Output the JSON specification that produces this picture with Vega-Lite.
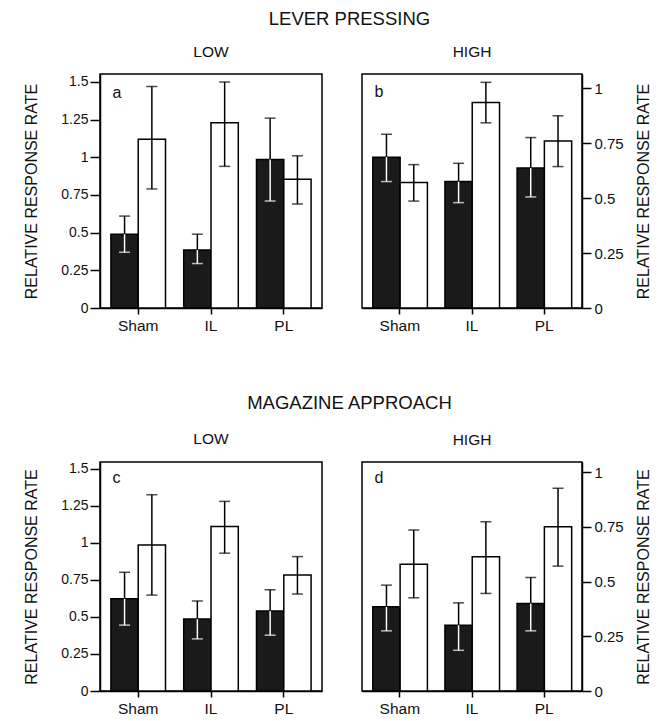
{
  "$schema": "https://vega.github.io/schema/vega-lite/v6.json",
  "padding": {"left": 23, "top": 10, "right": 5, "bottom": 5},
  "spacing": 59,
  "config": {
    "font": "Liberation Sans",
    "view": {"stroke": "black", "strokeWidth": 1.5},
    "axis": {"grid": false, "domainColor": "black", "tickColor": "black", "labelColor": "#111", "titleColor": "#111", "domainWidth": 1.5, "tickWidth": 1.5, "labelFont": "Liberation Sans", "titleFont": "Liberation Sans", "titleFontWeight": "normal", "labelOverlap": false, "labelBound": false, "labelFlush": false, "tickCount": 12},
    "title": {"font": "Liberation Sans", "fontWeight": "normal", "color": "#111"},
    "concat": {"spacing": 38}
  },
  "datasets": {
    "d": [
      {"panel": "a", "group": "Sham", "series": "black", "value": 0.49, "lo": 0.37, "hi": 0.61},
      {"panel": "a", "group": "Sham", "series": "white", "value": 1.12, "lo": 0.79, "hi": 1.47},
      {"panel": "a", "group": "IL", "series": "black", "value": 0.385, "lo": 0.295, "hi": 0.49},
      {"panel": "a", "group": "IL", "series": "white", "value": 1.23, "lo": 0.94, "hi": 1.5},
      {"panel": "a", "group": "PL", "series": "black", "value": 0.985, "lo": 0.71, "hi": 1.26},
      {"panel": "a", "group": "PL", "series": "white", "value": 0.855, "lo": 0.69, "hi": 1.01},
      {"panel": "b", "group": "Sham", "series": "black", "value": 0.686, "lo": 0.575, "hi": 0.79},
      {"panel": "b", "group": "Sham", "series": "white", "value": 0.571, "lo": 0.486, "hi": 0.652},
      {"panel": "b", "group": "IL", "series": "black", "value": 0.575, "lo": 0.479, "hi": 0.658},
      {"panel": "b", "group": "IL", "series": "white", "value": 0.934, "lo": 0.842, "hi": 1.026},
      {"panel": "b", "group": "PL", "series": "black", "value": 0.637, "lo": 0.505, "hi": 0.775},
      {"panel": "b", "group": "PL", "series": "white", "value": 0.759, "lo": 0.643, "hi": 0.874},
      {"panel": "c", "group": "Sham", "series": "black", "value": 0.623, "lo": 0.445, "hi": 0.802},
      {"panel": "c", "group": "Sham", "series": "white", "value": 0.987, "lo": 0.648, "hi": 1.326},
      {"panel": "c", "group": "IL", "series": "black", "value": 0.486, "lo": 0.352, "hi": 0.608},
      {"panel": "c", "group": "IL", "series": "white", "value": 1.111, "lo": 0.931, "hi": 1.281},
      {"panel": "c", "group": "PL", "series": "black", "value": 0.54, "lo": 0.377, "hi": 0.684},
      {"panel": "c", "group": "PL", "series": "white", "value": 0.784, "lo": 0.655, "hi": 0.908},
      {"panel": "d", "group": "Sham", "series": "black", "value": 0.385, "lo": 0.275, "hi": 0.484},
      {"panel": "d", "group": "Sham", "series": "white", "value": 0.579, "lo": 0.426, "hi": 0.736},
      {"panel": "d", "group": "IL", "series": "black", "value": 0.301, "lo": 0.186, "hi": 0.403},
      {"panel": "d", "group": "IL", "series": "white", "value": 0.614, "lo": 0.446, "hi": 0.774},
      {"panel": "d", "group": "PL", "series": "black", "value": 0.4, "lo": 0.275, "hi": 0.519},
      {"panel": "d", "group": "PL", "series": "white", "value": 0.751, "lo": 0.571, "hi": 0.927}
    ]
  },
  "data": {"name": "d"},
  "vconcat": [
    {
      "title": {"text": "LEVER PRESSING", "fontSize": 18.5, "anchor": "middle", "offset": 15, "dx": 12},
      "hconcat": [
        {
          "width": 222, "height": 234,
          "title": {"text": "LOW", "fontSize": 15.5, "offset": 14},
          "transform": [{"filter": "datum.panel === 'a'"}],
          "encoding": {
            "x": {"field": "group", "type": "nominal", "sort": ["Sham", "IL", "PL"], "scale": {"paddingInner": 0.25, "paddingOuter": 0.15}, "axis": {"title": null, "labelAngle": 0, "tickSize": 6, "labelFontSize": 15.5, "labelPadding": 4}},
            "xOffset": {"field": "series", "type": "nominal", "sort": ["black", "white"], "scale": {"paddingInner": 0, "paddingOuter": 0}}
          },
          "layer": [
            {"mark": {"type": "bar", "stroke": "black", "strokeWidth": 1.5},
             "encoding": {"y": {"field": "value", "type": "quantitative", "title": "RELATIVE RESPONSE RATE", "scale": {"domain": [0, 1.553], "nice": false, "zero": true}, "axis": {"orient": "left", "values": [0, 0.25, 0.5, 0.75, 1, 1.25, 1.5], "tickCount": 12, "labelExpr": "'' + datum.value", "tickSize": 10, "labelPadding": 2, "labelFontSize": 14, "titleFontSize": 16, "titlePadding": 21}},
                          "fill": {"condition": {"test": "datum.series === 'black'", "value": "#1a1a1a"}, "value": "white"}}},
            {"mark": {"type": "rule", "color": "black", "strokeWidth": 1.5},
             "encoding": {"y": {"field": "lo", "type": "quantitative", "title": "RELATIVE RESPONSE RATE"}, "y2": {"field": "hi"}}},
            {"transform": [{"filter": "datum.series === 'black'"}], "mark": {"type": "rule", "color": "white", "strokeWidth": 1.5},
             "encoding": {"y": {"field": "lo", "type": "quantitative", "title": "RELATIVE RESPONSE RATE"}, "y2": {"field": "value"}}},
            {"mark": {"type": "tick", "color": "black", "thickness": 1.5, "size": 11, "orient": "horizontal"},
             "encoding": {"y": {"field": "hi", "type": "quantitative", "title": "RELATIVE RESPONSE RATE"}}},
            {"mark": {"type": "tick", "thickness": 1.5, "size": 11, "orient": "horizontal"},
             "encoding": {"y": {"field": "lo", "type": "quantitative", "title": "RELATIVE RESPONSE RATE"}, "color": {"condition": {"test": "datum.series === 'black'", "value": "white"}, "value": "black"}}},
            {"transform": [{"filter": "datum.group === 'Sham' && datum.series === 'black'"}],
             "mark": {"type": "text", "text": "a", "fontSize": 16, "align": "left", "baseline": "alphabetic", "dx": -12, "color": "#111"},
             "encoding": {"y": {"datum": 1.396, "type": "quantitative", "title": "RELATIVE RESPONSE RATE"}}}
          ]
        },
        {
          "width": 220, "height": 234,
          "title": {"text": "HIGH", "fontSize": 15.5, "offset": 14},
          "transform": [{"filter": "datum.panel === 'b'"}],
          "encoding": {
            "x": {"field": "group", "type": "nominal", "sort": ["Sham", "IL", "PL"], "scale": {"paddingInner": 0.25, "paddingOuter": 0.15}, "axis": {"title": null, "labelAngle": 0, "tickSize": 6, "labelFontSize": 15.5, "labelPadding": 4}},
            "xOffset": {"field": "series", "type": "nominal", "sort": ["black", "white"], "scale": {"paddingInner": 0, "paddingOuter": 0}}
          },
          "layer": [
            {"mark": {"type": "bar", "stroke": "black", "strokeWidth": 1.5},
             "encoding": {"y": {"field": "value", "type": "quantitative", "title": "RELATIVE RESPONSE RATE", "scale": {"domain": [0, 1.064], "nice": false, "zero": true}, "axis": {"orient": "right", "values": [0, 0.25, 0.5, 0.75, 1], "tickCount": 12, "labelExpr": "'' + datum.value", "tickSize": 9, "labelPadding": 3, "labelFontSize": 15, "titleFontSize": 16, "titlePadding": 12, "titleAngle": 270, "titleBaseline": "top"}},
                          "fill": {"condition": {"test": "datum.series === 'black'", "value": "#1a1a1a"}, "value": "white"}}},
            {"mark": {"type": "rule", "color": "black", "strokeWidth": 1.5},
             "encoding": {"y": {"field": "lo", "type": "quantitative", "title": "RELATIVE RESPONSE RATE"}, "y2": {"field": "hi"}}},
            {"transform": [{"filter": "datum.series === 'black'"}], "mark": {"type": "rule", "color": "white", "strokeWidth": 1.5},
             "encoding": {"y": {"field": "lo", "type": "quantitative", "title": "RELATIVE RESPONSE RATE"}, "y2": {"field": "value"}}},
            {"mark": {"type": "tick", "color": "black", "thickness": 1.5, "size": 11, "orient": "horizontal"},
             "encoding": {"y": {"field": "hi", "type": "quantitative", "title": "RELATIVE RESPONSE RATE"}}},
            {"mark": {"type": "tick", "thickness": 1.5, "size": 11, "orient": "horizontal"},
             "encoding": {"y": {"field": "lo", "type": "quantitative", "title": "RELATIVE RESPONSE RATE"}, "color": {"condition": {"test": "datum.series === 'black'", "value": "white"}, "value": "black"}}},
            {"transform": [{"filter": "datum.group === 'Sham' && datum.series === 'black'"}],
             "mark": {"type": "text", "text": "b", "fontSize": 16, "align": "left", "baseline": "alphabetic", "dx": -12, "color": "#111"},
             "encoding": {"y": {"datum": 0.96, "type": "quantitative", "title": "RELATIVE RESPONSE RATE"}}}
          ]
        }
      ]
    },
    {
      "title": {"text": "MAGAZINE APPROACH", "fontSize": 18.5, "anchor": "middle", "offset": 19, "dx": 12},
      "hconcat": [
        {
          "width": 222, "height": 229,
          "title": {"text": "LOW", "fontSize": 15.5, "offset": 14},
          "transform": [{"filter": "datum.panel === 'c'"}],
          "encoding": {
            "x": {"field": "group", "type": "nominal", "sort": ["Sham", "IL", "PL"], "scale": {"paddingInner": 0.25, "paddingOuter": 0.15}, "axis": {"title": null, "labelAngle": 0, "tickSize": 6, "labelFontSize": 15.5, "labelPadding": 4}},
            "xOffset": {"field": "series", "type": "nominal", "sort": ["black", "white"], "scale": {"paddingInner": 0, "paddingOuter": 0}}
          },
          "layer": [
            {"mark": {"type": "bar", "stroke": "black", "strokeWidth": 1.5},
             "encoding": {"y": {"field": "value", "type": "quantitative", "title": "RELATIVE RESPONSE RATE", "scale": {"domain": [0, 1.547], "nice": false, "zero": true}, "axis": {"orient": "left", "values": [0, 0.25, 0.5, 0.75, 1, 1.25, 1.5], "tickCount": 12, "labelExpr": "'' + datum.value", "tickSize": 10, "labelPadding": 2, "labelFontSize": 14, "titleFontSize": 16, "titlePadding": 21}},
                          "fill": {"condition": {"test": "datum.series === 'black'", "value": "#1a1a1a"}, "value": "white"}}},
            {"mark": {"type": "rule", "color": "black", "strokeWidth": 1.5},
             "encoding": {"y": {"field": "lo", "type": "quantitative", "title": "RELATIVE RESPONSE RATE"}, "y2": {"field": "hi"}}},
            {"transform": [{"filter": "datum.series === 'black'"}], "mark": {"type": "rule", "color": "white", "strokeWidth": 1.5},
             "encoding": {"y": {"field": "lo", "type": "quantitative", "title": "RELATIVE RESPONSE RATE"}, "y2": {"field": "value"}}},
            {"mark": {"type": "tick", "color": "black", "thickness": 1.5, "size": 11, "orient": "horizontal"},
             "encoding": {"y": {"field": "hi", "type": "quantitative", "title": "RELATIVE RESPONSE RATE"}}},
            {"mark": {"type": "tick", "thickness": 1.5, "size": 11, "orient": "horizontal"},
             "encoding": {"y": {"field": "lo", "type": "quantitative", "title": "RELATIVE RESPONSE RATE"}, "color": {"condition": {"test": "datum.series === 'black'", "value": "white"}, "value": "black"}}},
            {"transform": [{"filter": "datum.group === 'Sham' && datum.series === 'black'"}],
             "mark": {"type": "text", "text": "c", "fontSize": 16, "align": "left", "baseline": "alphabetic", "dx": -12, "color": "#111"},
             "encoding": {"y": {"datum": 1.403, "type": "quantitative", "title": "RELATIVE RESPONSE RATE"}}}
          ]
        },
        {
          "width": 220, "height": 229,
          "title": {"text": "HIGH", "fontSize": 15.5, "offset": 14},
          "transform": [{"filter": "datum.panel === 'd'"}],
          "encoding": {
            "x": {"field": "group", "type": "nominal", "sort": ["Sham", "IL", "PL"], "scale": {"paddingInner": 0.25, "paddingOuter": 0.15}, "axis": {"title": null, "labelAngle": 0, "tickSize": 6, "labelFontSize": 15.5, "labelPadding": 4}},
            "xOffset": {"field": "series", "type": "nominal", "sort": ["black", "white"], "scale": {"paddingInner": 0, "paddingOuter": 0}}
          },
          "layer": [
            {"mark": {"type": "bar", "stroke": "black", "strokeWidth": 1.5},
             "encoding": {"y": {"field": "value", "type": "quantitative", "title": "RELATIVE RESPONSE RATE", "scale": {"domain": [0, 1.047], "nice": false, "zero": true}, "axis": {"orient": "right", "values": [0, 0.25, 0.5, 0.75, 1], "tickCount": 12, "labelExpr": "'' + datum.value", "tickSize": 9, "labelPadding": 3, "labelFontSize": 15, "titleFontSize": 16, "titlePadding": 12, "titleAngle": 270, "titleBaseline": "top"}},
                          "fill": {"condition": {"test": "datum.series === 'black'", "value": "#1a1a1a"}, "value": "white"}}},
            {"mark": {"type": "rule", "color": "black", "strokeWidth": 1.5},
             "encoding": {"y": {"field": "lo", "type": "quantitative", "title": "RELATIVE RESPONSE RATE"}, "y2": {"field": "hi"}}},
            {"transform": [{"filter": "datum.series === 'black'"}], "mark": {"type": "rule", "color": "white", "strokeWidth": 1.5},
             "encoding": {"y": {"field": "lo", "type": "quantitative", "title": "RELATIVE RESPONSE RATE"}, "y2": {"field": "value"}}},
            {"mark": {"type": "tick", "color": "black", "thickness": 1.5, "size": 11, "orient": "horizontal"},
             "encoding": {"y": {"field": "hi", "type": "quantitative", "title": "RELATIVE RESPONSE RATE"}}},
            {"mark": {"type": "tick", "thickness": 1.5, "size": 11, "orient": "horizontal"},
             "encoding": {"y": {"field": "lo", "type": "quantitative", "title": "RELATIVE RESPONSE RATE"}, "color": {"condition": {"test": "datum.series === 'black'", "value": "white"}, "value": "black"}}},
            {"transform": [{"filter": "datum.group === 'Sham' && datum.series === 'black'"}],
             "mark": {"type": "text", "text": "d", "fontSize": 16, "align": "left", "baseline": "alphabetic", "dx": -12, "color": "#111"},
             "encoding": {"y": {"datum": 0.95, "type": "quantitative", "title": "RELATIVE RESPONSE RATE"}}}
          ]
        }
      ]
    }
  ]
}
